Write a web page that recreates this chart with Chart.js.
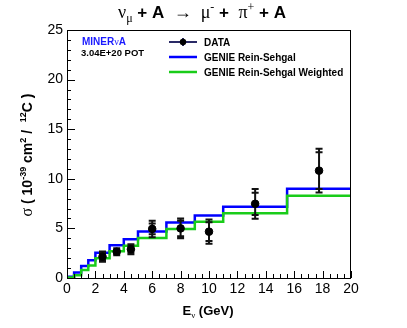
<!DOCTYPE html>
<html>
<head>
<meta charset="utf-8">
<script src="https://cdn.jsdelivr.net/npm/chart.js@4.4.0/dist/chart.umd.min.js"></script>
<style>
  body { margin: 0; background: #fff; }
  canvas { display: block; }
</style>
</head>
<body>
<canvas id="chart" width="407" height="328"></canvas>
<script>
// bin edges of the MC histograms (GeV)
const binEdges = [0, 0.5, 1, 1.5, 2, 3, 4, 5, 7, 9, 11, 15.5, 20];
// GENIE Rein-Sehgal, one value per bin
const genie = [0.12, 0.55, 1.2, 1.8, 2.55, 3.3, 3.9, 4.7, 5.6, 6.3, 7.18, 9.0];
// GENIE Rein-Sehgal Weighted
const genieWeighted = [0.05, 0.28, 0.8, 1.25, 2.0, 2.7, 3.25, 4.03, 4.94, 5.68, 6.52, 8.28];

// data points
const dataEnergy = [2.5, 3.5, 4.5, 6, 8, 10, 13.25, 17.75];
const dataXsec = [2.15, 2.65, 2.9, 4.95, 5.0, 4.67, 7.48, 10.82];
const statErr = [0.35, 0.25, 0.35, 0.55, 0.78, 0.95, 1.12, 1.85];
const totalErr = [0.52, 0.35, 0.5, 0.83, 1.0, 1.22, 1.5, 2.2];

const xTicks = [0, 2, 4, 6, 8, 10, 12, 14, 16, 18, 20];
const yTicks = [0, 5, 10, 15, 20, 25];

const SANS = '"Liberation Sans", Arial, Helvetica, sans-serif';
const SERIF = '"Liberation Serif", "DejaVu Serif", serif';
const BLUE = '#0000ff';
const GREEN = '#19cc19';

// histogram as stepped line: one point per lower edge, plus the closing edge
function histPoints(vals) {
  const pts = vals.map((v, i) => ({x: binEdges[i], y: v}));
  pts.push({x: binEdges[binEdges.length - 1], y: vals[vals.length - 1]});
  return pts;
}

// draw text made of several pieces (different font / vertical shift)
function drawRich(ctx, segs, x, y, align) {
  let w = 0;
  segs.forEach(s => { ctx.font = s.font; w += ctx.measureText(s.t).width; });
  let cx = align === 'center' ? x - w / 2 : x;
  ctx.textAlign = 'left';
  ctx.textBaseline = 'alphabetic';
  segs.forEach(s => {
    ctx.font = s.font;
    ctx.fillStyle = s.color || '#000';
    ctx.fillText(s.t, cx, y + (s.dy || 0));
    cx += ctx.measureText(s.t).width;
  });
}

const rootStyle = {
  id: 'rootStyle',
  beforeDatasetDraw(chart, args) {
    if (args.index !== 2) return;
    const ctx = chart.ctx, xs = chart.scales.x, ys = chart.scales.y;
    ctx.save();
    ctx.strokeStyle = '#111';
    ctx.lineWidth = 2;
    dataEnergy.forEach((e, i) => {
      const px = xs.getPixelForValue(e);
      const top = ys.getPixelForValue(dataXsec[i] + totalErr[i]);
      const bot = ys.getPixelForValue(dataXsec[i] - totalErr[i]);
      ctx.beginPath();
      ctx.moveTo(px, top); ctx.lineTo(px, bot);
      [dataXsec[i] + totalErr[i], dataXsec[i] - totalErr[i],
       dataXsec[i] + statErr[i], dataXsec[i] - statErr[i]].forEach(v => {
        const py = ys.getPixelForValue(v);
        ctx.moveTo(px - 3.5, py); ctx.lineTo(px + 3.5, py);
      });
      ctx.stroke();
    });
    ctx.restore();
  },
  afterDraw(chart) {
    const ctx = chart.ctx, a = chart.chartArea;
    const xs = chart.scales.x, ys = chart.scales.y;
    ctx.save();
    // frame
    ctx.strokeStyle = '#000';
    ctx.lineWidth = 1;
    ctx.strokeRect(a.left + 0.5, a.top + 0.5, a.right - a.left - 1, a.bottom - a.top);
    // inward ticks
    ctx.beginPath();
    for (let v = 0; v <= 20.001; v += 0.5) {
      const px = Math.round(xs.getPixelForValue(v)) + 0.5;
      const len = Math.abs(v % 2) < 1e-6 ? 7 : 4;
      ctx.moveTo(px, a.bottom); ctx.lineTo(px, a.bottom - len);
    }
    for (let v = 0; v <= 25; v += 1) {
      const py = Math.round(ys.getPixelForValue(v)) + 0.5;
      const len = v % 5 === 0 ? 8 : 4;
      ctx.moveTo(a.left, py); ctx.lineTo(a.left + len, py);
    }
    ctx.stroke();

    // title
    const B17 = 'bold 17px ' + SANS;
    const G18 = '18px ' + SERIF;
    const G11 = '12px ' + SERIF;
    drawRich(ctx, [
      {t: 'ν', font: G18}, {t: 'μ', font: G11, dy: 4},
      {t: ' + A  ', font: B17}, {t: '→', font: G18},
      {t: '  μ', font: G18}, {t: '-', font: G11, dy: -7},
      {t: ' +  ', font: B17}, {t: 'π', font: G18}, {t: '+', font: G11, dy: -7},
      {t: ' + A', font: B17}
    ], 202, 18, 'center');

    // x title
    drawRich(ctx, [
      {t: 'E', font: 'bold 13px ' + SANS}, {t: 'ν', font: '9px ' + SERIF, dy: 3},
      {t: ' (GeV)', font: 'bold 13px ' + SANS}
    ], 208, 315, 'center');

    // y title
    ctx.save();
    ctx.translate(32, 155);
    ctx.rotate(-Math.PI / 2);
    const B13 = 'bold 14px ' + SANS, B8 = 'bold 9px ' + SANS;
    drawRich(ctx, [
      {t: 'σ', font: '16px ' + SERIF}, {t: ' ( 10', font: B13}, {t: '-39', font: B8, dy: -6},
      {t: ' cm', font: B13}, {t: '2', font: B8, dy: -6}, {t: ' /  ', font: B13},
      {t: '12', font: B8, dy: -6}, {t: 'C )', font: B13}
    ], 0, 0, 'center');
    ctx.restore();

    // experiment label
    drawRich(ctx, [
      {t: 'MINER', font: 'bold 10px ' + SANS, color: '#1a1aff'},
      {t: 'ν', font: '10px ' + SERIF, color: '#1a1aff'},
      {t: 'A', font: 'bold 10px ' + SANS, color: '#1a1aff'}
    ], 82, 45, 'left');
    drawRich(ctx, [{t: '3.04E+20 POT', font: 'bold 9.5px ' + SANS}], 81, 56, 'left');

    // legend
    const lx0 = 169, lx1 = 197, tx = 204;
    const rows = [42, 57, 72];
    ctx.lineWidth = 2;
    ctx.strokeStyle = '#2a2a66';
    ctx.beginPath(); ctx.moveTo(lx0, rows[0]); ctx.lineTo(lx1, rows[0]);
    ctx.moveTo(183, rows[0] - 4); ctx.lineTo(183, rows[0] + 4); ctx.stroke();
    ctx.fillStyle = '#000';
    ctx.beginPath(); ctx.arc(183, rows[0], 3.2, 0, Math.PI * 2); ctx.fill();
    ctx.lineWidth = 2.5;
    ctx.strokeStyle = BLUE;
    ctx.beginPath(); ctx.moveTo(lx0, rows[1]); ctx.lineTo(lx1, rows[1]); ctx.stroke();
    ctx.strokeStyle = GREEN;
    ctx.beginPath(); ctx.moveTo(lx0, rows[2]); ctx.lineTo(lx1, rows[2]); ctx.stroke();
    const labels = ['DATA', 'GENIE Rein-Sehgal', 'GENIE Rein-Sehgal Weighted'];
    ctx.font = 'bold 10px ' + SANS;
    ctx.fillStyle = '#000';
    ctx.textAlign = 'left';
    ctx.textBaseline = 'middle';
    labels.forEach((l, i) => ctx.fillText(l, tx, rows[i] + 1));
    ctx.restore();
  }
};

new Chart(document.getElementById('chart').getContext('2d'), {
  type: 'scatter',
  data: {
    datasets: [
      {
        type: 'line', label: 'GENIE Rein-Sehgal', data: histPoints(genie),
        stepped: 'before', borderColor: BLUE, borderWidth: 2.5, pointRadius: 0, fill: false, order: 2
      },
      {
        type: 'line', label: 'GENIE Rein-Sehgal Weighted', data: histPoints(genieWeighted),
        stepped: 'before', borderColor: GREEN, borderWidth: 2.5, pointRadius: 0, fill: false, order: 1
      },
      {
        label: 'DATA', data: dataEnergy.map((e, i) => ({x: e, y: dataXsec[i]})),
        backgroundColor: '#000', borderColor: '#000', pointRadius: 3.8, order: 0
      }
    ]
  },
  options: {
    responsive: false,
    animation: false,
    layout: { padding: { top: 30, right: 56, left: 0, bottom: 0 } },
    plugins: { legend: { display: false }, tooltip: { enabled: false }, title: { display: false } },
    scales: {
      x: {
        type: 'linear', min: 0, max: 20,
        afterBuildTicks: s => { s.ticks = xTicks.map(v => ({value: v})); },
        ticks: { color: '#000', font: { family: SANS, size: 14 }, padding: 3, maxRotation: 0 },
        grid: { display: false, drawTicks: false },
        border: { display: false },
        afterFit: s => { s.height = 50; }
      },
      y: {
        type: 'linear', min: 0, max: 25,
        afterBuildTicks: s => { s.ticks = yTicks.map(v => ({value: v})); },
        ticks: { color: '#000', font: { family: SANS, size: 14 }, padding: 4 },
        grid: { display: false, drawTicks: false },
        border: { display: false },
        afterFit: s => { s.width = 67; }
      }
    }
  },
  plugins: [rootStyle]
});
</script>
</body>
</html>
